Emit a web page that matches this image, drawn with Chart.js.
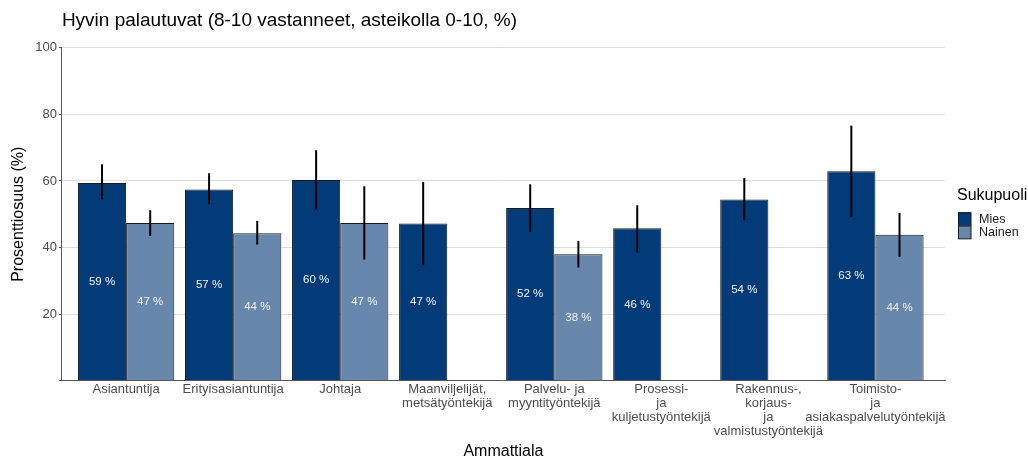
<!DOCTYPE html>
<html>
<head>
<meta charset="utf-8">
<script src="https://cdn.jsdelivr.net/npm/chart.js@4/dist/chart.umd.min.js"></script>
<style>
  html, body { margin: 0; padding: 0; background: #fff; }
  #wrap { width: 1028px; height: 458px; position: relative; }
</style>
</head>
<body>
<div id="wrap"><canvas id="chart"></canvas></div>
<script>
// Ammattiala categories (multi-line tick labels)
const categories = [
  'Asiantuntija',
  'Erityisasiantuntija',
  'Johtaja',
  ['Maanviljelijät,', 'metsätyöntekijä'],
  ['Palvelu- ja', 'myyntityöntekijä'],
  ['Prosessi-', 'ja', 'kuljetustyöntekijä'],
  ['Rakennus-,', 'korjaus-', 'ja', 'valmistustyöntekijä'],
  ['Toimisto-', 'ja', 'asiakaspalvelutyöntekijä']
];

// share of well-recovering (%), by sex
const mies = [59.4, 57.4, 60.3, 47.2, 51.9, 45.8, 54.4, 62.9];
const nainen = [47.4, 44.3, 47.4, null, 38.0, null, null, 43.8];

// confidence intervals
const miesLow = [54.5, 53.0, 51.4, 34.7, 44.7, 38.5, 48.2, 49.2];
const miesHigh = [65.0, 62.3, 69.2, 59.7, 59.0, 52.7, 60.9, 76.6];
const nainenLow = [43.5, 40.9, 36.4, null, 34.0, null, null, 37.2];
const nainenHigh = [51.2, 48.0, 58.4, null, 42.0, null, null, 50.4];

const yTicks = [20, 40, 60, 80, 100];
const legendTitle = 'Sukupuoli';

const FONT = "'Liberation Sans', Arial, sans-serif";

// error bars + value labels
const errorBarPlugin = {
  id: 'errorBars',
  afterDatasetsDraw(chart) {
    const ctx = chart.ctx;
    const yScale = chart.scales.y;
    const ranges = [[miesLow, miesHigh], [nainenLow, nainenHigh]];
    const values = [mies, nainen];
    ctx.save();
    chart.data.datasets.forEach((ds, di) => {
      const meta = chart.getDatasetMeta(di);
      meta.data.forEach((bar, i) => {
        const v = values[di][i];
        if (v == null) return;
        ctx.fillStyle = '#f2f2f2';
        ctx.font = `11.5px ${FONT}`;
        ctx.textAlign = 'center';
        ctx.textBaseline = 'middle';
        ctx.fillText(Math.round(v) + ' %', bar.x, yScale.getPixelForValue(v / 2));
        const lo = ranges[di][0][i], hi = ranges[di][1][i];
        ctx.strokeStyle = '#000';
        ctx.lineWidth = 2;
        ctx.beginPath();
        ctx.moveTo(bar.x, yScale.getPixelForValue(lo));
        ctx.lineTo(bar.x, yScale.getPixelForValue(hi));
        ctx.stroke();
      });
    });
    ctx.restore();
  }
};

// ggplot-like legend at the right
const sideLegend = {
  id: 'sideLegend',
  afterDraw(chart) {
    const ctx = chart.ctx;
    const x = chart.chartArea.right + 13;
    const mid = (chart.chartArea.top + chart.chartArea.bottom) / 2;
    ctx.save();
    ctx.fillStyle = '#000';
    ctx.font = `16px ${FONT}`;
    ctx.textAlign = 'left';
    ctx.textBaseline = 'middle';
    ctx.fillText(legendTitle, x - 1, mid - 19);
    ctx.font = `12.5px ${FONT}`;
    chart.data.datasets.forEach((ds, i) => {
      const y = mid - 2 + i * 13.3;
      ctx.fillStyle = ds.backgroundColor;
      ctx.fillRect(x, y, 13, 13.3);
      ctx.strokeStyle = '#1a1a1a';
      ctx.lineWidth = 1;
      ctx.strokeRect(x + 0.5, y + 0.5, 12.5, 12.8);
      ctx.fillStyle = '#1a1a1a';
      ctx.fillText(ds.label, x + 21, y + 7);
    });
    ctx.restore();
  }
};

new Chart(document.getElementById('chart'), {
  type: 'bar',
  data: {
    datasets: [
      {
        label: 'Mies',
        data: mies.map((v, i) => ({ x: i, y: v })),
        backgroundColor: '#023b78',
        borderColor: '#1a1a1a',
        borderWidth: 1
      },
      {
        label: 'Nainen',
        data: nainen.map((v, i) => ({ x: i, y: v })),
        backgroundColor: '#6787ac',
        borderColor: '#1a1a1a',
        borderWidth: 1
      }
    ]
  },
  options: {
    responsive: true,
    maintainAspectRatio: false,
    animation: false,
    categoryPercentage: 0.9,
    barPercentage: 1.0,
    layout: { padding: { left: 4, right: 83, top: 0, bottom: -4 } },
    plugins: {
      title: {
        display: true,
        text: 'Hyvin palautuvat (8-10 vastanneet, asteikolla 0-10, %)',
        align: 'start',
        fullSize: false,
        color: '#000',
        font: { family: FONT, size: 19, weight: 'normal' },
        padding: { top: 9, bottom: 16 }
      },
      legend: { display: false },
      tooltip: { enabled: false }
    },
    scales: {
      x: {
        type: 'linear',
        min: -0.6,
        max: 7.65,
        offset: false,
        grid: { display: true, offset: false, drawOnChartArea: false, drawTicks: false },
        border: { display: true, color: '#555', width: 1 },
        afterBuildTicks(scale) {
          scale.ticks = categories.map((_, i) => ({ value: i }));
        },
        ticks: {
          includeBounds: false,
          autoSkip: false,
          maxRotation: 0,
          color: '#4d4d4d',
          font: { family: FONT, size: 13, lineHeight: 1.07 },
          padding: 2,
          callback: (v) => categories[v]
        },
        title: {
          display: true,
          text: 'Ammattiala',
          color: '#000',
          font: { family: FONT, size: 16 },
          padding: { top: 1.5, bottom: 1 }
        }
      },
      y: {
        min: 0,
        max: 100,
        afterBuildTicks(scale) {
          scale.ticks = [0].concat(yTicks).map(v => ({ value: v }));
        },
        grid: { color: (c) => c.tick && c.tick.value === 0 ? 'rgba(0,0,0,0)' : '#dedede', tickLength: 3, tickColor: '#555' },
        border: { display: true, color: '#555', width: 1 },
        ticks: {
          color: '#4d4d4d',
          font: { family: FONT, size: 13 },
          padding: 2,
          callback: (v) => v === 0 ? '' : v
        },
        title: {
          display: true,
          text: 'Prosenttiosuus (%)',
          color: '#000',
          font: { family: FONT, size: 16 },
          padding: { top: 5, bottom: 5 }
        }
      }
    }
  },
  plugins: [errorBarPlugin, sideLegend]
});
</script>
</body>
</html>
